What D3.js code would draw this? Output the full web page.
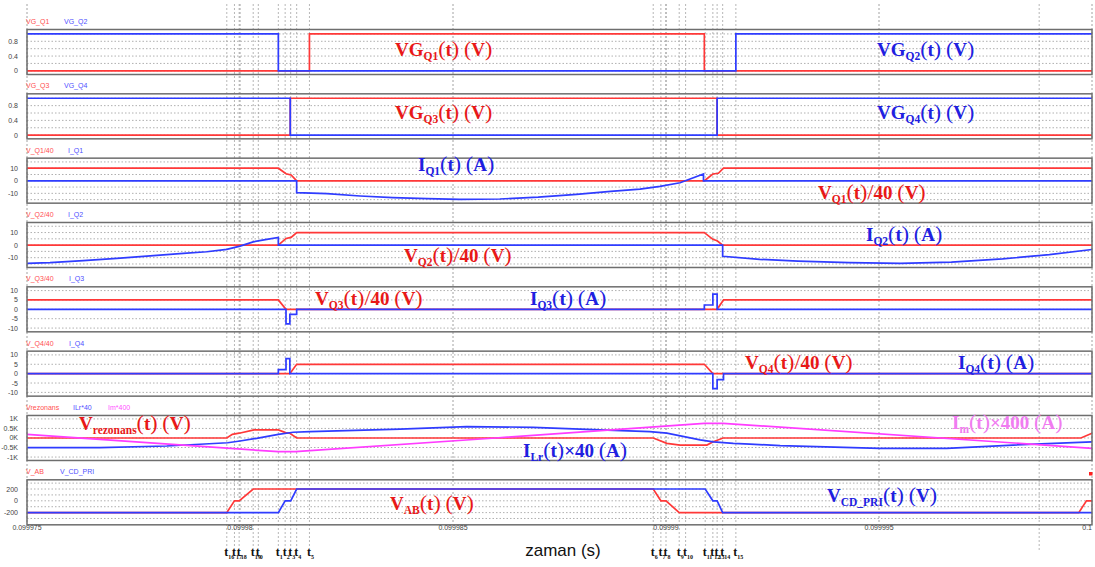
<!DOCTYPE html>
<html>
<head>
<meta charset="utf-8">
<script src="https://cdn.jsdelivr.net/npm/d3@7"></script>
<style>
body{margin:0;background:#fff;}
text{white-space:pre;}
</style>
</head>
<body>
<svg id="chart" width="1095" height="567"></svg>
<script>
// time axis in microseconds after 0.099975 s
var xTickPos = [0, 5, 10, 15, 20, 25];
var xTickLabels = ["0.099975", "0.09998", "0.099985", "0.09999", "0.099995", "0.1"];

// switching instants t16..t15
var tMarkNames = ["16","17","18","19","0","1","2","3","4","5","6","7","8","9","10","11","12","13","14","15"];
var tMarkUs = [4.69, 4.87, 4.98, 5.31, 5.43, 5.90, 6.06, 6.19, 6.33, 6.63,
               14.70, 14.88, 15.00, 15.31, 15.46, 15.92, 16.10, 16.20, 16.33, 16.64];
var extraMarkUs = [23.76];

// gate signals
var vgQ1T = [0, 6.63, 6.63, 15.90, 15.90, 25], vgQ1V = [0, 0, 1, 1, 0, 0];
var vgQ2T = [0, 5.90, 5.90, 16.64, 16.64, 25], vgQ2V = [1, 1, 0, 0, 1, 1];
var vgQ3T = [0, 6.18, 6.18, 16.20, 16.20, 25], vgQ3V = [0, 0, 1, 1, 0, 0];
var vgQ4T = [0, 6.18, 6.18, 16.20, 16.20, 25], vgQ4V = [1, 1, 0, 0, 1, 1];

// Q1
var vQ1T = [0, 5.90, 6.08, 6.20, 6.33, 15.90, 16.10, 16.23, 16.35, 25];
var vQ1V = [10, 10, 5.6, 4.6, 0, 0, 5.4, 6, 10, 10];
var iQ1T = [0, 6.33, 6.33, 7.04, 7.82, 8.59, 9.39, 10.16, 11.1, 12.0, 12.9, 13.7, 14.39, 14.86, 15.33, 15.88, 15.88, 25];
var iQ1V = [0, 0, -9.4, -10.2, -12.1, -13.4, -14.2, -14.8, -14.5, -13.0, -10.8, -8.5, -6.7, -4.5, -1.6, 5.4, 0, 0];

// Q2
var vQ2T = [0, 5.90, 6.08, 6.20, 6.33, 15.90, 16.10, 16.20, 16.33, 25];
var vQ2V = [0, 0, 5.3, 6.1, 10, 10, 4.6, 3.5, 0, 0];
var iQ2T = [0, 0.54, 1.32, 2.11, 2.89, 3.67, 4.22, 4.69, 5.0, 5.31, 5.63, 5.90, 5.90, 16.33, 16.33, 17.2, 18.1, 19.3, 20.5, 21.7, 22.9, 24.0, 25];
var iQ2V = [-14.5, -14.0, -12.4, -10.5, -8.5, -6.6, -5.3, -3.4, -0.8, 2.6, 4.5, 6.1, 0, 0, -8.9, -11.3, -12.8, -14.0, -14.5, -13.5, -11, -7.5, -3.5];

// Q3
var vQ3T = [0, 5.90, 6.08, 16.20, 16.35, 25], vQ3V = [5, 5, 0, 0, 5, 5];
var iQ3T = [0, 6.08, 6.08, 6.17, 6.17, 6.33, 6.33, 15.90, 15.90, 16.10, 16.10, 16.20, 16.20, 25];
var iQ3V = [0, 0, -7.8, -7.8, -2.7, -2.7, 0, 0, 2.3, 2.3, 8.1, 8.1, 0, 0];

// Q4
var vQ4T = [0, 6.17, 6.33, 15.90, 16.10, 25], vQ4V = [0, 0, 5, 5, 0, 0];
var iQ4T = [0, 5.90, 5.90, 6.08, 6.08, 6.17, 6.17, 16.10, 16.10, 16.20, 16.20, 16.35, 16.35, 25];
var iQ4V = [0, 0, 2.1, 2.1, 8, 8, 0, 0, -8, -8, -3.2, -3.2, 0, 0];

// resonant tank (kV)
var vRezT = [0, 4.69, 4.82, 4.98, 5.33, 5.90, 6.07, 6.17, 6.33, 14.70, 15.02, 15.33, 15.96, 16.11, 16.34, 24.74, 25];
var vRezV = [0, 0, 0.19, 0.25, 0.42, 0.42, 0.28, 0.25, 0, 0, -0.28, -0.37, -0.37, -0.2, 0, 0, 0.25];
var iLrT = [0, 1.71, 3.28, 4.06, 4.71, 5.0, 5.39, 5.90, 6.25, 6.64, 8.76, 10.32, 11.88, 13.45, 14.62, 15.02, 15.80, 16.11, 16.58, 16.97, 17.68, 20.02, 21.59, 23.15, 25];
var iLrV = [-0.51, -0.51, -0.42, -0.33, -0.25, -0.16, -0.02, 0.19, 0.30, 0.33, 0.46, 0.60, 0.56, 0.42, 0.33, 0.25, -0.1, -0.2, -0.28, -0.32, -0.40, -0.54, -0.54, -0.37, -0.2];
var iMT = [0, 5.90, 6.30, 11.0, 15.90, 16.34, 25];
var iMV = [0.19, -0.72, -0.72, 0, 0.77, 0.77, -0.54];

// bridge voltages
var vAbT = [0, 4.69, 4.87, 4.98, 5.31, 14.70, 14.88, 15.00, 15.31, 24.69, 24.87, 25];
var vAbV = [-200, -200, 0, 0, 200, 200, 0, 0, -200, -200, 0, 0];
var vCdT = [0, 5.90, 6.06, 6.19, 6.33, 15.92, 16.10, 16.20, 16.33, 25];
var vCdV = [-200, -200, 0, 0, 200, 200, 0, 0, -200, -200];

// y ticks
var gateTicks = [0, 0.4, 0.8], gateTickText = ["0", "0.4", "0.8"];
var qTicks = [-10, 0, 10], qTickText = ["-10", "0", "10"];
var q34Ticks = [-10, -5, 0, 5, 10], q34TickText = ["-10", "-5", "0", "5", "10"];
var rezTicks = [-1, -0.5, 0, 0.5, 1], rezTickText = ["-1K", "-0.5K", "0K", "0.5K", "1K"];
var abTicks = [-200, 0, 200], abTickText = ["-200", "0", "200"];

// big labels on the plot
var annoMain = ["VG","VG","VG","VG","I","V","I","V","V","I","V","I","V","I","I","V","V"];
var annoSub = ["Q1","Q2","Q3","Q4","Q1","Q1","Q2","Q2","Q3","Q3","Q4","Q4","rezonans","Lr","m","AB","CD_PRI"];
var annoRest = ["(t) (V)","(t) (V)","(t) (V)","(t) (V)","(t) (A)","(t)/40 (V)","(t) (A)","(t)/40 (V)","(t)/40 (V)","(t) (A)","(t)/40 (V)","(t) (A)","(t) (V)","(t)\u00d740 (A)","(t)\u00d7400 (A)","(t) (V)","(t) (V)"];

var RED = "#ff3838", BLUE = "#2f3cff", MAG = "#ff3cff";
var ARED = "#e81818", ABLUE = "#2020e0", AMAG = "#f07cf0";

var svg = d3.select("#chart");
var x = d3.scaleLinear().domain([0, 25]).range([27, 1092]);
var top0 = 29.5, step = 64.33, ph = 45;

var panels = [
  {names:["VG_Q1","VG_Q2"], nx:[26,64], dom:[-0.1,1.12], grid:d3.range(0,1.01,0.2), ticks:gateTicks, tt:gateTickText,
   s:[[vgQ1T,vgQ1V,RED],[vgQ2T,vgQ2V,BLUE]]},
  {names:["VG_Q3","VG_Q4"], nx:[26,64], dom:[-0.1,1.12], grid:d3.range(0,1.01,0.2), ticks:gateTicks, tt:gateTickText,
   s:[[vgQ3T,vgQ3V,RED],[vgQ4T,vgQ4V,BLUE]]},
  {names:["V_Q1/40","I_Q1"], nx:[26,68], dom:[-17.8,18], grid:d3.range(-15,16,5), ticks:qTicks, tt:qTickText,
   s:[[vQ1T,vQ1V,RED],[iQ1T,iQ1V,BLUE]]},
  {names:["V_Q2/40","I_Q2"], nx:[26,68], dom:[-17.8,18], grid:d3.range(-15,16,5), ticks:qTicks, tt:qTickText,
   s:[[vQ2T,vQ2V,RED],[iQ2T,iQ2V,BLUE]]},
  {names:["V_Q3/40","I_Q3"], nx:[26,69], dom:[-12,12], grid:d3.range(-10,11,5), ticks:q34Ticks, tt:q34TickText,
   s:[[vQ3T,vQ3V,RED],[iQ3T,iQ3V,BLUE]]},
  {names:["V_Q4/40","I_Q4"], nx:[26,69], dom:[-12,12], grid:d3.range(-10,11,5), ticks:q34Ticks, tt:q34TickText,
   s:[[vQ4T,vQ4V,RED],[iQ4T,iQ4V,BLUE]]},
  {names:["Vrezonans","ILr*40","Im*400"], nx:[26,73,108], dom:[-1.18,1.18], grid:d3.range(-1,1.01,0.5), ticks:rezTicks, tt:rezTickText,
   s:[[vRezT,vRezV,RED],[iLrT,iLrV,BLUE],[iMT,iMV,MAG]]},
  {names:["V_AB","V_CD_PRI"], nx:[26,60], dom:[-407,356], grid:d3.range(-300,301,100), ticks:abTicks, tt:abTickText,
   s:[[vAbT,vAbV,RED],[vCdT,vCdV,BLUE]]}
];
var nameCol = ["#ff5050", "#5050ff", "#ff50ff"];

// vertical dashed lines (grid + switching instants)
svg.selectAll(".vgrid").data(xTickPos).enter().append("line")
  .attr("x1", function(d){ return x(d); }).attr("x2", function(d){ return x(d); })
  .attr("y1", 4).attr("y2", 524)
  .attr("stroke", "#8a8a8a").attr("stroke-width", 0.8).attr("stroke-dasharray", "2,2");
svg.selectAll(".tline").data(tMarkUs.concat(extraMarkUs)).enter().append("line")
  .attr("x1", function(d){ return x(d); }).attr("x2", function(d){ return x(d); })
  .attr("y1", 4).attr("y2", function(d, i){ return i < tMarkUs.length ? 546 : 552; })
  .attr("stroke", "#a5a5a5").attr("stroke-width", 0.8).attr("stroke-dasharray", "2,2");

panels.forEach(function(p, i){
  var t = top0 + i * step;
  var y = d3.scaleLinear().domain(p.dom).range([t + ph, t]);
  var g = svg.append("g");

  g.selectAll("line.h").data(p.grid).enter().append("line")
    .attr("x1", 27).attr("x2", 1092)
    .attr("y1", function(d){ return y(d); }).attr("y2", function(d){ return y(d); })
    .attr("stroke", "#9c9c9c").attr("stroke-width", 0.8).attr("stroke-dasharray", "1.5,2");

  var line = d3.line().x(function(d){ return x(d[0]); }).y(function(d){ return y(d[1]); });
  p.s.forEach(function(s){
    g.append("path").attr("d", line(d3.zip(s[0], s[1])))
      .attr("fill", "none").attr("stroke", s[2]).attr("stroke-width", 1.7);
  });

  g.append("rect").attr("x", 27).attr("y", t).attr("width", 1065).attr("height", ph)
    .attr("fill", "none").attr("stroke", "#6e6e6e").attr("stroke-width", 1.5);

  g.selectAll("text.tk").data(p.ticks).enter().append("text")
    .attr("x", 18).attr("y", function(d){ return y(d) + 2.5; })
    .attr("text-anchor", "end").attr("font-family", "Liberation Sans, Arial, sans-serif")
    .attr("font-size", 7).attr("fill", "#444")
    .text(function(d, j){ return p.tt[j]; });

  p.names.forEach(function(n, j){
    g.append("text").attr("x", p.nx[j]).attr("y", t - 5.5)
      .attr("font-family", "Liberation Sans, Arial, sans-serif").attr("font-size", 7)
      .attr("fill", nameCol[j]).text(n);
  });
});

// x tick labels
svg.selectAll(".xl").data(xTickPos).enter().append("text")
  .attr("x", function(d){ return x(d); })
  .attr("y", 530)
  .attr("text-anchor", function(d, i){ return i == xTickPos.length - 1 ? "end" : "middle"; })
  .attr("font-family", "Liberation Sans, Arial, sans-serif").attr("font-size", 7).attr("fill", "#444")
  .text(function(d, i){ return xTickLabels[i]; });

// t labels under the plot (crowded, like the original)
tMarkUs.forEach(function(u, i){
  var tx = svg.append("text").attr("x", x(u) - 2.5).attr("y", 556)
    .attr("font-family", "Liberation Serif, Times New Roman, serif").attr("font-weight", "bold")
    .attr("font-size", 12).attr("fill", "#111");
  tx.append("tspan").text("t");
  tx.append("tspan").attr("font-size", 6).attr("dy", 2.5).text(tMarkNames[i]);
});

svg.append("text").attr("x", 563).attr("y", 556).attr("text-anchor", "middle")
  .attr("font-family", "Liberation Sans, Arial, sans-serif").attr("font-size", 17).attr("fill", "#111")
  .text("zaman (s)");

// small red marker on the right
svg.append("rect").attr("x", 1089).attr("y", 472).attr("width", 3.5).attr("height", 3.5).attr("fill", "#ff2020");

// annotation layout: left x, baseline y, color
var annoLay = [
  [395,56,ARED],[877,56,ABLUE],[395,119,ARED],[877,119,ABLUE],
  [418,171,ABLUE],[818,199,ARED],[866,241,ABLUE],[404,262,ARED],
  [315,305,ARED],[530,305,ABLUE],[745,369,ARED],[958,369,ABLUE],
  [79,430,ARED],[523,457,ABLUE],[952,429,AMAG],[390,510,ARED],[827,502,ABLUE]
];
var fs = 19;
annoMain.forEach(function(m, i){
  var L = annoLay[i];
  var txt = svg.append("text").attr("x", L[0]).attr("y", L[1]).attr("fill", L[2])
    .attr("font-family", "Liberation Serif, Times New Roman, serif")
    .attr("font-weight", "bold").attr("font-size", fs);
  txt.append("tspan").text(m);
  txt.append("tspan").attr("font-size", 11.5).attr("dy", 3.5).text(annoSub[i]);
  annoRest[i].split("").forEach(function(ch, k){
    var ts = txt.append("tspan").text(ch);
    if (k == 0) ts.attr("dy", -3.5);
    if ("()/".indexOf(ch) >= 0) ts.attr("font-size", 22).attr("font-weight", "normal");
  });
});
</script>
</body>
</html>
